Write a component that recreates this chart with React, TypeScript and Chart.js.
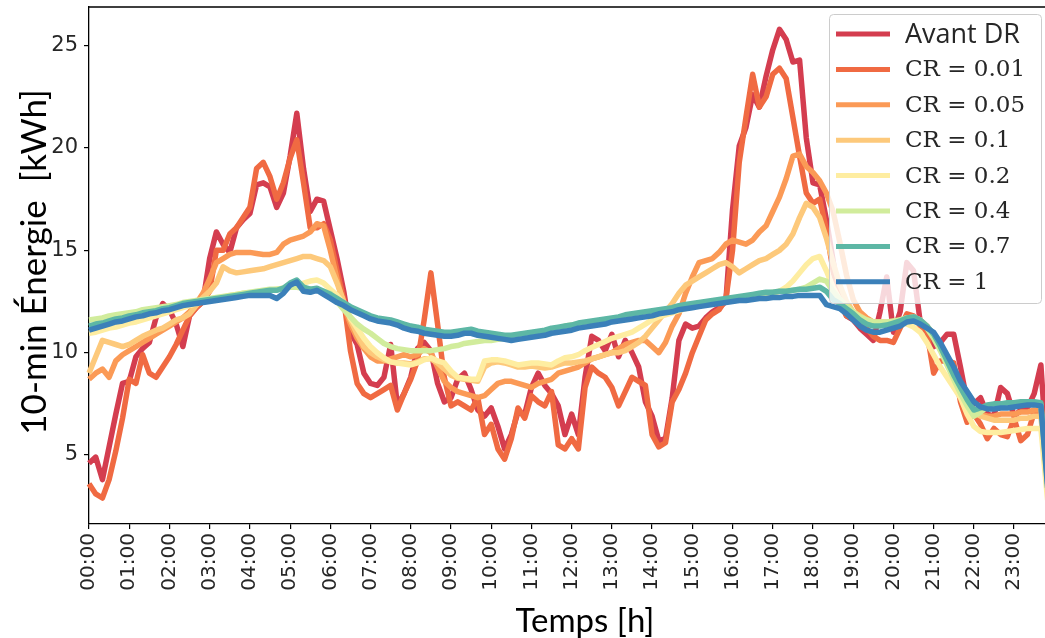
import React, { useEffect, useRef } from "react";
import { Chart, registerables } from "chart.js";

Chart.register(...registerables);

// 10-minute time stamps (categories)
const TIMES: string[] = [];
for (let h = 0; h < 24; h++) {
  for (let m = 0; m < 60; m += 10) {
    TIMES.push(`${String(h).padStart(2, "0")}:${String(m).padStart(2, "0")}`);
  }
}

const HOUR_LABELS = [
  "00:00", "01:00", "02:00", "03:00", "04:00", "05:00", "06:00", "07:00",
  "08:00", "09:00", "10:00", "11:00", "12:00", "13:00", "14:00", "15:00",
  "16:00", "17:00", "18:00", "19:00", "20:00", "21:00", "22:00", "23:00",
];
const Y_TICKS = [5, 10, 15, 20, 25];

const SERIES_LABELS = ["Avant DR", "CR = 0.01", "CR = 0.05", "CR = 0.1", "CR = 0.2", "CR = 0.4", "CR = 0.7", "CR = 1"];
const SERIES_COLORS = ["#d43d4f", "#f06a42", "#fb9a56", "#fdc97b", "#feeda1", "#d1ec9c", "#5db7a5", "#3b80b9"];

const X_TITLE = "Temps [h]";
const Y_TITLE = "10-min Énergie  [kWh]";

const AVANT_DR = [
  4.6, 4.9, 3.8, 5.4, 7.0, 8.5, 8.6, 9.8, 10.2, 10.5, 11.7, 12.4,
  12.1, 11.4, 10.3, 11.8, 12.2, 12.5, 14.6, 15.9, 15.3, 14.9, 16.1, 16.5,
  16.8, 18.2, 18.3, 18.1, 17.1, 17.8, 19.6, 21.7, 19.0, 16.9, 17.5, 17.4,
  16.0, 14.6, 13.0, 11.0, 10.4, 9.0, 8.5, 8.4, 8.8, 10.4, 7.4, 8.0,
  8.8, 10.2, 10.5, 10.1, 8.5, 7.6, 7.8, 8.7, 9.0, 8.2, 7.2, 6.9,
  7.3, 6.4, 5.3, 6.0, 7.1, 7.0, 8.3, 9.0, 8.4, 8.0, 7.4, 6.0,
  7.0, 6.0, 8.8, 10.8, 10.6, 10.1, 10.9, 9.8, 10.6, 10.0, 9.3, 7.6,
  6.9, 5.7, 5.8, 7.8, 10.6, 11.4, 11.2, 11.3, 11.7, 12.0, 12.2, 12.5,
  17.0, 20.1, 21.0, 22.6, 22.0, 23.5, 24.8, 25.8, 25.3, 24.2, 24.3, 20.5,
  18.3, 18.2, 16.5, 14.5, 12.5, 11.8, 11.6, 11.2, 10.9, 10.6, 12.0, 13.7,
  11.0, 12.0, 14.4, 14.0, 11.5, 11.2, 10.3, 10.5, 10.9, 10.9, 9.3, 7.6,
  7.5, 7.8, 7.0, 6.9, 8.3, 8.0, 6.9, 7.2, 7.3, 8.0, 9.4, 4.5,
];

const CR_001 = [
  3.6, 3.1, 2.9, 3.8, 5.2, 6.8, 8.7, 8.5, 9.9, 9.0, 8.8, 9.3,
  9.8, 10.4, 11.1, 11.8, 12.2, 12.5, 13.0, 15.0, 15.0, 15.8, 16.1, 16.6,
  17.1, 19.0, 19.3, 18.6, 17.5, 18.3, 19.5, 20.4, 18.3, 16.1, 16.1, 16.3,
  15.5, 14.0, 12.6, 10.1, 8.5, 8.0, 7.8, 8.0, 8.2, 8.4, 7.2, 8.0,
  8.7, 9.6, 11.6, 13.9, 11.4, 8.8, 7.4, 7.6, 7.4, 7.2, 7.8, 6.0,
  6.5, 5.3, 4.8, 5.8, 7.3, 6.8, 7.9, 7.6, 7.4, 8.1, 5.5, 5.3,
  5.8, 5.3, 8.3, 9.3, 9.0, 8.8, 8.3, 7.4, 8.1, 8.8, 8.6, 8.4,
  6.0, 5.4, 5.6, 7.6, 8.2, 9.0, 10.0, 10.8, 11.6, 11.9, 12.1, 12.6,
  15.0, 19.3, 21.5, 23.6, 22.0, 22.5, 23.6, 23.9, 23.4, 21.5, 19.6, 17.8,
  17.3, 17.5, 16.0, 14.0, 12.5, 11.8, 11.7, 11.6, 11.2, 10.8, 10.6, 10.6,
  10.5, 11.2, 11.9, 11.8, 11.3, 11.0, 9.0, 9.6, 9.6, 9.5, 7.6, 6.6,
  7.0, 6.5, 5.8, 6.3, 6.0, 5.9, 6.8, 5.7, 6.0, 7.1, 7.2, 4.0,
];

const CR_005 = [
  8.7, 9.0, 9.2, 8.8, 9.6, 9.9, 10.1, 10.3, 10.5, 10.7, 10.9, 11.1,
  11.3, 11.5, 11.7, 12.0, 12.4, 12.9, 13.6, 14.4, 14.6, 14.8, 14.9, 14.9,
  14.9, 14.85, 14.8, 14.8, 14.9, 15.3, 15.5, 15.6, 15.7, 15.9, 16.3, 16.2,
  15.0, 13.6, 12.3, 11.4, 10.7, 10.2, 9.8, 9.6, 9.6, 9.7, 9.8, 9.9,
  9.8, 9.9, 10.2, 10.0, 9.3, 8.6, 8.3, 8.1, 8.0, 7.9, 7.8, 7.9,
  8.2, 8.5, 8.6, 8.6, 8.5, 8.4, 8.3, 8.5, 8.6, 8.7, 9.0, 9.1,
  9.2, 9.3, 9.5, 9.7, 9.8, 9.9, 10.0, 10.2, 10.4, 10.5, 10.6, 10.6,
  10.3, 10.0, 10.5, 11.3, 11.9, 12.9, 13.7, 14.4, 14.5, 14.6, 14.9, 15.3,
  15.5, 15.4, 15.3, 15.5, 15.9, 16.2, 16.9, 17.6, 18.5, 19.6, 19.7, 19.1,
  18.8, 18.4, 17.8, 16.9, 15.4, 13.8, 12.6, 12.0, 11.7, 11.5, 11.4, 11.4,
  11.3, 11.4, 11.6, 11.7, 11.5, 11.3, 10.8, 10.2, 9.5, 8.8, 8.2, 7.6,
  7.2, 7.0, 6.9, 6.9, 7.0, 7.0, 7.0, 7.1, 7.1, 7.2, 7.2, 3.8,
];

const CR_01 = [
  9.0, 9.8, 10.6, 10.5, 10.4, 10.3, 10.4, 10.6, 10.8, 10.95, 11.1, 11.2,
  11.4, 11.6, 11.7, 11.9, 12.3, 12.7, 13.0, 13.4, 14.2, 14.0, 13.9, 13.95,
  14.0, 14.05, 14.1, 14.2, 14.3, 14.4, 14.5, 14.6, 14.7, 14.7, 14.6, 14.5,
  14.2, 13.4, 12.5, 11.6, 10.9, 10.3, 10.0, 9.8, 9.65, 9.55, 9.5, 9.5,
  9.45, 9.55, 9.7, 9.7, 9.5, 9.2, 8.9, 8.75, 8.7, 8.65, 8.6, 9.3,
  9.5, 9.55, 9.5, 9.4, 9.3, 9.3, 9.35, 9.3, 9.25, 9.3, 9.4, 9.5,
  9.5, 9.55, 9.6, 9.7, 9.8, 9.9, 10.0, 10.0, 10.1, 10.3, 10.5, 10.8,
  11.2, 11.6, 12.0, 12.4, 12.9, 13.3, 13.5, 13.7, 13.9, 14.1, 14.3, 14.4,
  14.2, 13.9, 14.1, 14.3, 14.5, 14.6, 14.8, 15.0, 15.3, 15.8, 16.6, 17.3,
  17.1, 16.6, 15.6, 14.4, 13.3, 12.5, 12.0, 11.8, 11.6, 11.5, 11.5, 11.5,
  11.5, 11.6, 11.7, 11.7, 11.6, 11.3, 10.9, 10.3, 9.6, 8.9, 8.2, 7.6,
  7.1, 6.9, 6.8, 6.7, 6.7, 6.7, 6.7, 6.8, 6.8, 6.9, 6.9, 3.5,
];

const CR_02 = [
  10.95, 11.0, 11.1, 11.2, 11.25, 11.35, 11.45, 11.5, 11.6, 11.7, 11.8, 11.9,
  12.0, 12.1, 12.2, 12.3, 12.4, 12.5, 12.6, 12.65, 12.7, 12.8, 12.85, 12.9,
  12.9, 12.95, 13.0, 13.05, 13.1, 13.15, 13.2, 13.3, 13.4, 13.5, 13.55, 13.4,
  13.1, 12.8, 12.4, 11.7, 11.2, 10.7, 10.3, 10.0, 9.75, 9.55, 9.5, 9.45,
  9.4, 9.5, 9.65, 9.75, 9.6, 9.5, 9.1, 8.8, 8.75, 8.7, 8.7, 9.6,
  9.65, 9.65, 9.6, 9.5, 9.4, 9.45, 9.5, 9.5, 9.45, 9.4, 9.6, 9.75,
  9.8, 9.9, 10.1, 10.25, 10.4, 10.55, 10.7, 10.8, 10.9, 11.0, 11.2, 11.4,
  11.6, 11.75, 11.85, 11.95, 12.05, 12.15, 12.25, 12.3, 12.4, 12.45, 12.5, 12.55,
  12.6, 12.65, 12.7, 12.75, 12.8, 12.85, 12.9, 13.0, 13.2, 13.5, 13.9, 14.3,
  14.6, 14.7, 14.0, 13.2, 12.6, 12.2, 11.9, 11.7, 11.5, 11.4, 11.35, 11.35,
  11.4, 11.45, 11.4, 11.25, 11.0, 10.5, 9.9, 9.3, 8.8, 8.3, 7.8, 7.0,
  6.4, 6.15, 6.1, 6.1, 6.1, 6.15, 6.2, 6.25, 6.3, 6.3, 6.3, 2.8,
];

const CR_04 = [
  11.6, 11.65, 11.7, 11.8, 11.85, 11.9, 11.95, 12.0, 12.1, 12.15, 12.2, 12.25,
  12.3, 12.35, 12.45, 12.5, 12.55, 12.6, 12.65, 12.7, 12.75, 12.8, 12.85, 12.9,
  12.95, 13.0, 13.05, 13.1, 13.1, 13.15, 13.2, 13.2, 13.15, 13.1, 13.05, 13.0,
  12.9, 12.5, 12.1, 11.75, 11.4, 11.15, 10.95, 10.7, 10.45, 10.3, 10.2, 10.15,
  10.1, 10.1, 10.1, 10.1, 10.15, 10.2, 10.3, 10.35, 10.45, 10.5, 10.55, 10.6,
  10.6, 10.65, 10.7, 10.75, 10.8, 10.85, 10.9, 10.95, 11.0, 11.1, 11.2, 11.3,
  11.35, 11.4, 11.45, 11.5, 11.55, 11.6, 11.65, 11.7, 11.8, 11.85, 11.9, 11.95,
  12.0, 12.05, 12.1, 12.15, 12.2, 12.3, 12.35, 12.4, 12.45, 12.5, 12.55, 12.6,
  12.65, 12.7, 12.75, 12.8, 12.85, 12.9, 12.95, 13.0, 13.0, 13.05, 13.1, 13.2,
  13.4, 13.6, 13.5, 13.0, 12.6, 12.3, 12.0, 11.75, 11.6, 11.5, 11.5, 11.5,
  11.55, 11.6, 11.7, 11.75, 11.6, 11.2, 10.7, 10.1, 9.4, 8.7, 8.0, 7.4,
  6.9, 7.1, 7.35, 7.4, 7.45, 7.5, 7.5, 7.5, 7.5, 7.5, 7.45, 3.3,
];

const CR_07 = [
  11.3, 11.4, 11.45, 11.55, 11.65, 11.7, 11.8, 11.85, 11.95, 12.0, 12.05, 12.15,
  12.2, 12.3, 12.4, 12.45, 12.5, 12.55, 12.6, 12.65, 12.7, 12.75, 12.8, 12.85,
  12.9, 12.95, 13.0, 13.05, 13.05, 13.15, 13.4, 13.55, 13.2, 13.1, 13.15, 13.0,
  12.85, 12.65, 12.45, 12.25, 12.1, 11.95, 11.8, 11.7, 11.65, 11.6, 11.5, 11.4,
  11.3, 11.25, 11.15, 11.1, 11.05, 11.0, 11.0, 11.05, 11.1, 11.15, 11.05, 11.0,
  10.95, 10.9, 10.85, 10.85, 10.9, 10.95, 11.0, 11.05, 11.1, 11.2, 11.25, 11.3,
  11.35, 11.45, 11.5, 11.55, 11.6, 11.65, 11.7, 11.75, 11.85, 11.9, 11.95, 12.0,
  12.05, 12.1, 12.15, 12.2, 12.3, 12.35, 12.4, 12.45, 12.5, 12.55, 12.6, 12.65,
  12.7, 12.75, 12.8, 12.85, 12.9, 12.95, 12.95, 13.0, 13.0, 13.05, 13.1, 13.1,
  13.15, 13.2, 13.0, 12.6, 12.4, 12.15, 11.9, 11.6, 11.4, 11.3, 11.3, 11.35,
  11.45, 11.55, 11.7, 11.75, 11.6, 11.3, 10.9, 10.3, 9.6, 8.9, 8.3, 7.7,
  7.2, 7.3, 7.45, 7.5, 7.5, 7.55, 7.55, 7.6, 7.6, 7.6, 7.55, 3.6,
];

const CR_1 = [
  11.1, 11.2, 11.3, 11.4, 11.5, 11.55, 11.65, 11.75, 11.8, 11.9, 11.95, 12.05,
  12.1, 12.2, 12.3, 12.35, 12.4, 12.45, 12.5, 12.55, 12.6, 12.65, 12.7, 12.75,
  12.8, 12.8, 12.8, 12.8, 12.65, 12.9, 13.3, 13.45, 13.0, 12.95, 13.05, 12.85,
  12.65, 12.45, 12.3, 12.1, 11.95, 11.8, 11.65, 11.55, 11.5, 11.45, 11.35, 11.2,
  11.1, 11.05, 10.95, 10.9, 10.85, 10.8, 10.8, 10.85, 10.95, 10.95, 10.85, 10.8,
  10.75, 10.7, 10.65, 10.6, 10.65, 10.7, 10.75, 10.8, 10.85, 10.95, 11.0, 11.05,
  11.1, 11.2, 11.25, 11.3, 11.35, 11.4, 11.5, 11.55, 11.6, 11.65, 11.7, 11.75,
  11.8, 11.9, 11.95, 12.0, 12.1, 12.15, 12.2, 12.25, 12.3, 12.35, 12.4, 12.45,
  12.5, 12.55, 12.55, 12.6, 12.65, 12.65, 12.7, 12.7, 12.75, 12.75, 12.8, 12.8,
  12.8, 12.8, 12.35, 12.25, 12.15, 11.9, 11.6, 11.3, 11.1, 11.0, 11.0, 11.1,
  11.2, 11.3, 11.5, 11.55, 11.4, 11.2, 11.0, 10.5, 9.9, 9.3, 8.6, 8.1,
  7.6, 7.35, 7.25, 7.25, 7.3, 7.3, 7.35, 7.4, 7.45, 7.45, 7.4, 3.4,
];

const SERIES = [AVANT_DR, CR_001, CR_005, CR_01, CR_02, CR_04, CR_07, CR_1];

const overlayPlugin = {
  id: "overlay",
  afterDraw(chart: any) {
    const { ctx, chartArea } = chart;
    ctx.save();
    // top & right spines
    ctx.strokeStyle = "#000";
    ctx.lineWidth = 1.3;
    ctx.beginPath();
    ctx.moveTo(chartArea.left, chartArea.top);
    ctx.lineTo(chartArea.right, chartArea.top);
    ctx.lineTo(chartArea.right, chartArea.bottom);
    ctx.stroke();

    // legend
    ctx.beginPath();
    ctx.roundRect(829.5, 14.5, 212, 289, 4);
    ctx.fillStyle = "rgba(255,255,255,0.8)";
    ctx.fill();
    ctx.strokeStyle = "#cccccc";
    ctx.lineWidth = 1;
    ctx.stroke();
    chart.data.datasets.forEach((ds: any, k: number) => {
      const cy = 34 + 35.4 * k;
      ctx.beginPath();
      ctx.moveTo(836, cy);
      ctx.lineTo(890, cy);
      ctx.strokeStyle = ds.borderColor;
      ctx.lineWidth = 5;
      ctx.lineCap = "butt";
      ctx.stroke();
      ctx.fillStyle = "#262626";
      ctx.font = k === 0 ? '27px "Open Sans"' : '23px "DejaVu Serif"';
      ctx.textAlign = "left";
      ctx.textBaseline = "middle";
      ctx.fillText(ds.label, 905, cy + 1);
    });

    // axis titles
    ctx.fillStyle = "#000";
    ctx.font = "33px Lato";
    ctx.textAlign = "center";
    ctx.textBaseline = "alphabetic";
    ctx.fillText(X_TITLE, 585, 632);
    ctx.translate(35, 262);
    ctx.rotate(-Math.PI / 2);
    ctx.font = "35px Lato";
    ctx.textBaseline = "middle";
    ctx.fillText(Y_TITLE, 0, 0);
    ctx.restore();
  },
};

export default function App() {
  const ref = useRef<HTMLCanvasElement>(null);

  useEffect(() => {
    if (!ref.current) return;
    const chart = new Chart(ref.current, {
      type: "line",
      data: {
        labels: TIMES,
        datasets: SERIES.map((s, k) => ({
          label: SERIES_LABELS[k],
          data: s,
          borderColor: SERIES_COLORS[k],
          backgroundColor: SERIES_COLORS[k],
          borderWidth: 5.5,
          pointRadius: 0,
          tension: 0,
          borderJoinStyle: "round",
          fill: false,
          order: SERIES.length - 1 - k,
        })),
      },
      options: {
        responsive: false,
        animation: false,
        devicePixelRatio: 1,
        layout: { padding: { top: 7, left: 0, right: 12.4, bottom: 0 } },
        plugins: {
          legend: { display: false },
          tooltip: { enabled: false },
        },
        events: [],
        scales: {
          x: {
            type: "category",
            offset: false,
            grid: { display: true, drawOnChartArea: false, drawTicks: true, tickLength: 5, color: "#000", lineWidth: 1.2 },
            border: { display: true, color: "#000", width: 1.3 },
            ticks: {
              autoSkip: false,
              minRotation: 90,
              maxRotation: 90,
              padding: 4,
              color: "#262626",
              font: { family: '"DejaVu Sans"', size: 20 },
            },
            afterBuildTicks: (scale: any) => {
              scale.ticks = scale.ticks.filter((t: any) => HOUR_LABELS.includes(TIMES[t.value]));
            },
            afterFit: (scale: any) => {
              scale.height = 114;
              scale.paddingLeft = 0;
              scale.paddingRight = 0;
            },
          },
          y: {
            type: "linear",
            min: 1.63,
            max: 26.89,
            grid: { display: true, drawOnChartArea: false, drawTicks: true, tickLength: 5, color: "#000", lineWidth: 1.2 },
            border: { display: true, color: "#000", width: 1.3 },
            ticks: {
              padding: 6,
              color: "#262626",
              font: { family: '"DejaVu Sans"', size: 21 },
            },
            afterBuildTicks: (scale: any) => {
              scale.ticks = Y_TICKS.map((v) => ({ value: v }));
            },
            afterFit: (scale: any) => {
              scale.width = 89;
              scale.paddingTop = 0;
              scale.paddingBottom = 0;
            },
          },
        },
      },
      plugins: [overlayPlugin],
    } as any);
    return () => chart.destroy();
  }, []);

  return (
    <div style={{ position: "fixed", left: 0, top: 0, width: 1045, height: 638, overflow: "hidden", background: "#fff" }}>
      <canvas ref={ref} width={1060} height={638} style={{ display: "block", width: 1060, height: 638 }} />
    </div>
  );
}
